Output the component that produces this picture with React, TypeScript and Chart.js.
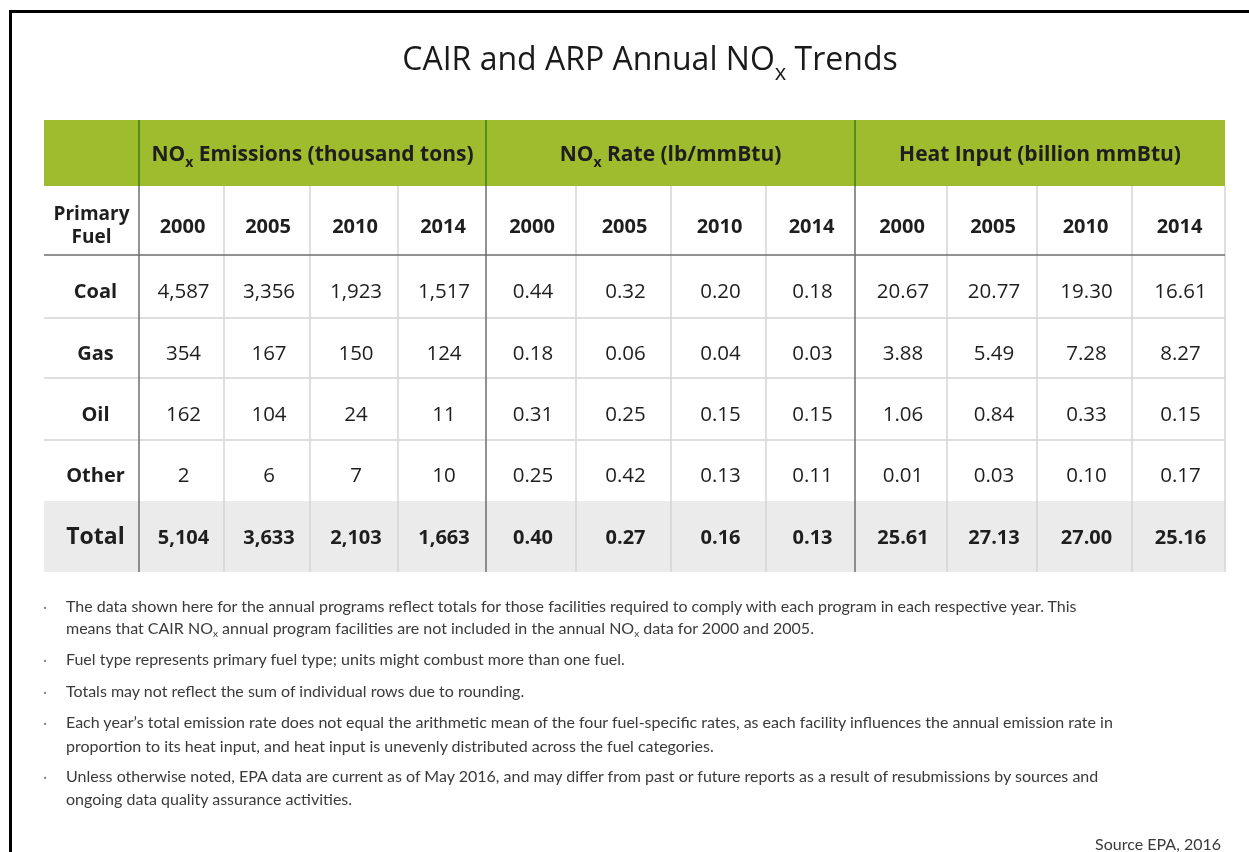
import React, { useEffect, useRef } from "react";
import { Chart, registerables } from "chart.js";

Chart.register(...registerables);

// ---------- data ----------
const titleText = "CAIR and ARP Annual NO{x} Trends";
const groupTitles = ["NO{x} Emissions (thousand tons)", "NO{x} Rate (lb/mmBtu)", "Heat Input (billion mmBtu)"];
const firstHeader = ["Primary", "Fuel"];
const years = ["2000", "2005", "2010", "2014"];
const fuels = ["Coal", "Gas", "Oil", "Other"];
const totalLabel = "Total";

const emissions = [
  [4587, 3356, 1923, 1517],
  [354, 167, 150, 124],
  [162, 104, 24, 11],
  [2, 6, 7, 10],
];
const emissionsTotal = [5104, 3633, 2103, 1663];

const rates = [
  [0.44, 0.32, 0.2, 0.18],
  [0.18, 0.06, 0.04, 0.03],
  [0.31, 0.25, 0.15, 0.15],
  [0.25, 0.42, 0.13, 0.11],
];
const ratesTotal = [0.4, 0.27, 0.16, 0.13];

const heatInput = [
  [20.67, 20.77, 19.3, 16.61],
  [3.88, 5.49, 7.28, 8.27],
  [1.06, 0.84, 0.33, 0.15],
  [0.01, 0.03, 0.1, 0.17],
];
const heatTotal = [25.61, 27.13, 27.0, 25.16];

const notes = [
  [
    "The data shown here for the annual programs reflect totals for those facilities required to comply with each program in each respective year. This",
    "means that CAIR NO{x} annual program facilities are not included in the annual NO{x} data for 2000 and 2005.",
  ],
  ["Fuel type represents primary fuel type; units might combust more than one fuel."],
  ["Totals may not reflect the sum of individual rows due to rounding."],
  [
    "Each year\u2019s total emission rate does not equal the arithmetic mean of the four fuel-specific rates, as each facility influences the annual emission rate in",
    "proportion to its heat input, and heat input is unevenly distributed across the fuel categories.",
  ],
  [
    "Unless otherwise noted, EPA data are current as of May 2016, and may differ from past or future reports as a result of resubmissions by sources and",
    "ongoing data quality assurance activities.",
  ],
];
const sourceText = "Source EPA, 2016";

// ---------- layout (table units) ----------
const COL_EDGES = [0, 95, 180, 266, 354, 442, 532, 627, 722, 811, 903, 993, 1088, 1181];
const ROW_EDGES = [0, 66, 135, 198, 258, 320, 381, 452];
const GROUP_COLS = [1, 5, 9, 13];

const FONT = '"Open Sans", "DejaVu Sans", sans-serif';
const GREEN = "#9fbb2e";
const GREEN_DARK = "#3f7d1c";
const LINE_DARK = "#6e6e6e";
const LINE_LIGHT = "#d4d4d4";
const TOTAL_BG = "#ebebeb";
const TEXT = "#1e1e1e";

const fmtInt = (v: number) => v.toLocaleString("en-US");
const fmt2 = (v: number) => v.toFixed(2);

function parseRich(text: string) {
  return text
    .split(/(\{[^}]*\})/)
    .filter((p) => p.length > 0)
    .map((p) => (p.startsWith("{") ? { t: p.slice(1, -1), sub: true } : { t: p, sub: false }));
}

function drawRich(
  ctx: CanvasRenderingContext2D,
  text: string,
  x: number,
  y: number,
  size: number,
  weight: number,
  color: string,
  align: "left" | "center" | "right"
) {
  const parts = parseRich(text);
  const fontFor = (sub: boolean) => `${weight} ${sub ? Math.round(size * 0.68) : size}px ${FONT}`;
  let total = 0;
  const widths = parts.map((p) => {
    ctx.font = fontFor(p.sub);
    const w = ctx.measureText(p.t).width;
    total += w;
    return w;
  });
  let cx = align === "center" ? x - total / 2 : align === "right" ? x - total : x;
  ctx.fillStyle = color;
  ctx.textAlign = "left";
  ctx.textBaseline = "alphabetic";
  parts.forEach((p, i) => {
    ctx.font = fontFor(p.sub);
    ctx.fillText(p.t, cx, p.sub ? y + size * 0.3 : y);
    cx += widths[i];
  });
}

const tablePlugin = {
  id: "tablePlugin",
  afterDraw(chart: any) {
    const ctx: CanvasRenderingContext2D = chart.ctx;
    const xs = chart.scales.x;
    const ys = chart.scales.y;
    const X = (c: number) => xs.getPixelForValue(COL_EDGES[c]);
    const Y = (r: number) => ys.getPixelForValue(ROW_EDGES[r]);
    const CX = (c: number) => xs.getPixelForValue((COL_EDGES[c] + COL_EDGES[c + 1]) / 2);
    const CY = (r: number) => ys.getPixelForValue((ROW_EDGES[r] + ROW_EDGES[r + 1]) / 2);
    const nC = COL_EDGES.length - 1;
    const nR = ROW_EDGES.length - 1;

    ctx.save();
    // title
    drawRich(ctx, titleText, 650, 70, 32, 400, "#1a1a1a", "center");

    // backgrounds
    ctx.fillStyle = GREEN;
    ctx.fillRect(X(0), Y(0), X(nC) - X(0), Y(1) - Y(0));
    ctx.fillStyle = TOTAL_BG;
    ctx.fillRect(X(0), Y(nR - 1), X(nC) - X(0), Y(nR) - Y(nR - 1));

    const vline = (x: number, y0: number, y1: number, color: string, w: number) => {
      ctx.strokeStyle = color;
      ctx.lineWidth = w;
      ctx.beginPath();
      ctx.moveTo(x, y0);
      ctx.lineTo(x, y1);
      ctx.stroke();
    };
    const hline = (y: number, x0: number, x1: number, color: string, w: number) => {
      ctx.strokeStyle = color;
      ctx.lineWidth = w;
      ctx.beginPath();
      ctx.moveTo(x0, y);
      ctx.lineTo(x1, y);
      ctx.stroke();
    };

    // light grid
    for (let r = 3; r <= nR - 2; r++) hline(Y(r), X(0), X(nC), LINE_LIGHT, 1.5);
    for (let c = 1; c <= nC; c++) {
      if (!GROUP_COLS.includes(c) || c === nC) vline(X(c), Y(1), Y(nR), LINE_LIGHT, 1.5);
    }
    // dark separators
    hline(Y(2), X(0), X(nC), LINE_DARK, 1.5);
    GROUP_COLS.slice(0, 3).forEach((c) => {
      vline(X(c), Y(1), Y(nR), LINE_DARK, 1.5);
      vline(X(c), Y(0), Y(1), GREEN_DARK, 1.5);
    });

    // group titles
    groupTitles.forEach((g, i) => {
      const c0 = GROUP_COLS[i];
      const c1 = GROUP_COLS[i + 1];
      const cx = (xs.getPixelForValue(COL_EDGES[c0]) + xs.getPixelForValue(COL_EDGES[c1])) / 2;
      drawRich(ctx, g, cx, CY(0) + 8, 21, 700, TEXT, "center");
    });

    // first column header
    ctx.textAlign = "center";
    ctx.fillStyle = TEXT;
    ctx.font = `700 19px ${FONT}`;
    ctx.fillText(firstHeader[0], CX(0), CY(1) - 1);
    ctx.fillText(firstHeader[1], CX(0), CY(1) + 22);

    // years
    for (let g = 0; g < 3; g++) {
      years.forEach((yr, j) => {
        const c = 1 + g * 4 + j;
        drawRich(ctx, yr, CX(c) + 1, CY(1) + 12.5, 20, 700, TEXT, "center");
      });
    }

    // body rows
    [0, 1, 2, 3].forEach((i) => {
      const r = 2 + i;
      const by = CY(r) + 11.5;
      drawRich(ctx, fuels[i], CX(0) + 4, by, 20, 700, TEXT, "center");
      const vals = [...emissions[i].map(fmtInt), ...rates[i].map(fmt2), ...heatInput[i].map(fmt2)];
      vals.forEach((v, j) => drawRich(ctx, v, CX(1 + j) + 2, by, 20.5, 400, TEXT, "center"));
    });

    // total row
    const tr = nR - 1;
    const ty = CY(tr) + 7;
    drawRich(ctx, totalLabel, CX(0) + 4, ty, 23, 700, TEXT, "center");
    const tvals = [...emissionsTotal.map(fmtInt), ...ratesTotal.map(fmt2), ...heatTotal.map(fmt2)];
    tvals.forEach((v, j) => drawRich(ctx, v, CX(1 + j) + 2, ty, 20, 700, TEXT, "center"));

    ctx.restore();
  },
};

function RichSpan({ text }: { text: string }) {
  return (
    <>
      {parseRich(text).map((p, i) =>
        p.sub ? (
          <span key={i} style={{ fontSize: "10px", position: "relative", top: "3px" }}>
            {p.t}
          </span>
        ) : (
          <span key={i}>{p.t}</span>
        )
      )}
    </>
  );
}

const NOTE_BASELINES = [
  [611.5, 633.5],
  [665],
  [696.5],
  [728, 751.5],
  [782, 804.5],
];

export default function App() {
  const canvasRef = useRef<HTMLCanvasElement | null>(null);

  useEffect(() => {
    const canvas = canvasRef.current;
    if (!canvas) return;
    const points: { x: number; y: number }[] = [];
    for (let r = 2; r < ROW_EDGES.length - 1; r++) {
      for (let c = 1; c < COL_EDGES.length - 1; c++) {
        points.push({ x: (COL_EDGES[c] + COL_EDGES[c + 1]) / 2, y: (ROW_EDGES[r] + ROW_EDGES[r + 1]) / 2 });
      }
    }
    const chart = new Chart(canvas, {
      type: "scatter",
      data: { datasets: [{ data: points, pointRadius: 0, pointHoverRadius: 0, showLine: false }] },
      options: {
        animation: false,
        responsive: false,
        events: [],
        layout: { padding: { left: 44, top: 120, right: 24, bottom: 280 } },
        scales: {
          x: { type: "linear", min: 0, max: COL_EDGES[COL_EDGES.length - 1], display: false },
          y: { type: "linear", min: 0, max: ROW_EDGES[ROW_EDGES.length - 1], reverse: true, display: false },
        },
        plugins: { legend: { display: false }, tooltip: { enabled: false }, title: { display: false } },
      },
      plugins: [tablePlugin],
    });
    return () => chart.destroy();
  }, []);

  const noteFont = 16;
  const ascent = 0.987 * noteFont;

  return (
    <div
      style={{
        position: "absolute",
        left: 0,
        top: 0,
        width: 1249,
        height: 852,
        overflow: "hidden",
        background: "#ffffff",
      }}
    >
      <div
        style={{
          position: "absolute",
          left: 9,
          top: 10,
          width: 1400,
          height: 1000,
          border: "3px solid #000",
          boxSizing: "border-box",
        }}
      />
      <canvas ref={canvasRef} width={1249} height={852} style={{ position: "absolute", left: 0, top: 0 }} />
      <div style={{ fontFamily: "Lato, sans-serif", fontSize: noteFont, color: "#3a3a3a", lineHeight: `${noteFont * 1.2}px` }}>
        {notes.map((lines, i) =>
          lines.map((line, k) => (
            <div
              key={`${i}-${k}`}
              style={{ position: "absolute", left: 66, top: NOTE_BASELINES[i][k] - ascent, whiteSpace: "nowrap" }}
            >
              {k === 0 && <span style={{ position: "absolute", left: -23, color: "#888" }}>{"\u00b7"}</span>}
              <RichSpan text={line} />
            </div>
          ))
        )}
        <div style={{ position: "absolute", right: 1249 - 1221, top: 850 - ascent, whiteSpace: "nowrap" }}>
          {sourceText}
        </div>
      </div>
    </div>
  );
}
